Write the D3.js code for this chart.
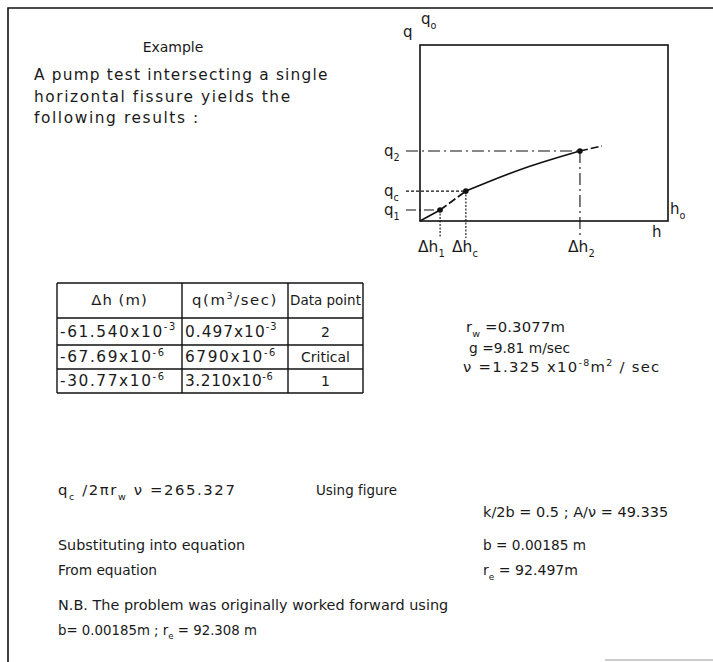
<!DOCTYPE html>
<html>
<head>
<meta charset="utf-8">
<script src="https://cdn.jsdelivr.net/npm/d3@7"></script>
<style>
  html, body { margin: 0; padding: 0; background: #fff; }
  svg text { font-family: "DejaVu Sans", "Liberation Sans", sans-serif; fill: #1a1a1a; }
</style>
</head>
<body>
<div id="chart"></div>
<script>
// ---------------- data ----------------
// sketch curve q(h) in normalised units (0..1 of the graph box)
const curveH = [0, 0.081, 0.185, 0.42, 0.645, 0.734];
const curveQ = [0, 0.0625, 0.17, 0.30, 0.398, 0.426];
// marked data points
const pointSub = ["1", "c", "2"];
const pointH = [0.081, 0.185, 0.645];
const pointQ = [0.0625, 0.17, 0.398];

// table
const tableHeader = ["Δh (m)", "q(m³/sec)", "Data point"];
const dhMant = ["-61.540", "-67.69", "-30.77"];
const dhExp = ["-3", "-6", "-6"];
const qMant = ["0.497", "6790", "3.210"];
const qExp = ["-3", "-6", "-6"];
const dataPoint = ["2", "Critical", "1"];

// text lines
const introLines = ["A pump test intersecting a single", "horizontal fissure yields the", "following results :"];

// ---------------- drawing ----------------
const W = 713, H = 662;
const svg = d3.select("#chart").append("svg").attr("width", W).attr("height", H);

// outer frame (top and left only, like the scan)
svg.append("path").attr("d", `M8,662 L8,8 L713,8`).attr("fill", "none")
  .attr("stroke", "#111").attr("stroke-width", 1.6);
svg.append("line").attr("x1", 605).attr("x2", 713).attr("y1", 660).attr("y2", 660)
  .attr("stroke", "#999").attr("stroke-width", 1.2);

// rich text helper: parts = [[string, "n"|"sub"|"sup"], ...]; optional width to fit
function rich(x, y, parts, size, anchor, width) {
  size = size || 14;
  const build = (sz) => {
    const t = svg.append("text").attr("x", x).attr("y", y)
      .attr("font-size", sz + "px").attr("text-anchor", anchor || "start");
    let shift = 0;
    parts.forEach(([s, k]) => {
      const target = k === "sub" ? sz * 0.32 : k === "sup" ? -sz * 0.42 : 0;
      const ts = t.append("tspan").attr("dy", target - shift).text(s);
      if (k !== "n") ts.attr("font-size", (sz * 0.64) + "px");
      shift = target;
    });
    return t;
  };
  let t = build(size);
  if (width) {
    const w = t.node().getBBox().width;
    const s2 = size * Math.min(1.06, Math.max(0.95, width / w));
    t.remove();
    t = build(s2);
    const w2 = t.node().getBBox().width;
    const n = t.text().length;
    const ls = Math.min(1.6, Math.max(-0.4, (width - w2) / (n - 0.5)));
    t.attr("letter-spacing", ls.toFixed(2) + "px");
  }
  return t;
}

// Title and intro text
rich(173, 52, [["Example", "n"]], 14, "middle");
const introW = [294, 257, 169];
introLines.forEach((l, i) => rich(34, 80 + i * 21.5, [[l, "n"]], 14.5, "start", introW[i]));

// ---------------- graph sketch ----------------
const x = d3.scaleLinear().domain([0, 1]).range([420, 668]);
const y = d3.scaleLinear().domain([0, 1]).range([221, 45]);

svg.append("rect").attr("x", x(0)).attr("y", y(1))
  .attr("width", x(1) - x(0)).attr("height", y(0) - y(1))
  .attr("fill", "none").attr("stroke", "#111").attr("stroke-width", 1.6);

const pts = curveH.map((h, i) => [h, curveQ[i]]);
const line = d3.line().x(d => x(d[0])).y(d => y(d[1])).curve(d3.curveMonotoneX);
// origin -> q1 solid
svg.append("path").attr("d", line(pts.slice(0, 2))).attr("fill", "none")
  .attr("stroke", "#111").attr("stroke-width", 1.6);
// q1 -> qc dashed
svg.append("path").attr("d", line(pts.slice(1, 3))).attr("fill", "none")
  .attr("stroke", "#111").attr("stroke-width", 1.6).attr("stroke-dasharray", "8,3");
// qc -> q2 solid curve
svg.append("path").attr("d", line(pts.slice(2, 5))).attr("fill", "none")
  .attr("stroke", "#111").attr("stroke-width", 1.6);
// beyond q2 dashed
svg.append("path").attr("d", line(pts.slice(4, 6))).attr("fill", "none")
  .attr("stroke", "#111").attr("stroke-width", 1.6).attr("stroke-dasharray", "8,3");

// guide lines
const guideStyle = [
  { h: "10,3,2,3", v: "2,1.5" },
  { h: "3,2", v: "2,1.5" },
  { h: "12,4,2,4", v: "12,4,2,4" }
];
pointH.forEach((h, i) => {
  svg.append("line").attr("x1", 406).attr("x2", x(h)).attr("y1", y(pointQ[i])).attr("y2", y(pointQ[i]))
    .attr("stroke", "#111").attr("stroke-width", 1.1).attr("stroke-dasharray", guideStyle[i].h);
  svg.append("line").attr("x1", x(h)).attr("x2", x(h)).attr("y1", y(pointQ[i])).attr("y2", 238)
    .attr("stroke", "#111").attr("stroke-width", 1.1).attr("stroke-dasharray", guideStyle[i].v);
  svg.append("circle").attr("cx", x(h)).attr("cy", y(pointQ[i])).attr("r", 2.8).attr("fill", "#111");
  rich(384, y(pointQ[i]) + 5, [["q", "n"], [pointSub[i], "sub"]], 15);
});

// axis labels
rich(421, 24, [["q", "n"], ["o", "sub"]], 15);
rich(403, 37, [["q", "n"]], 15);
rich(670, 214, [["h", "n"], ["o", "sub"]], 15);
rich(652, 237, [["h", "n"]], 15);
const dhLabelX = [418, 452, 568];
pointSub.forEach((s, i) => rich(dhLabelX[i], 252, [["Δh", "n"], [s, "sub"]], 15.5));

// ---------------- table ----------------
const colX = [57, 182, 288, 363];
const rowY = [283, 318, 345, 369, 393];
const tb = svg.append("g").attr("stroke", "#111").attr("stroke-width", 1.4).attr("fill", "none");
rowY.forEach(ry => tb.append("line").attr("x1", colX[0]).attr("x2", colX[3]).attr("y1", ry).attr("y2", ry));
colX.forEach(cx => tb.append("line").attr("x1", cx).attr("x2", cx).attr("y1", rowY[0]).attr("y2", rowY[4]));

rich((colX[0] + colX[1]) / 2, 305, [["Δh (m)", "n"]], 14, "middle", 56);
rich((colX[1] + colX[2]) / 2, 305, [["q(m", "n"], ["3", "sup"], ["/sec)", "n"]], 14, "middle", 92);
rich((colX[2] + colX[3]) / 2, 305, [[tableHeader[2], "n"]], 13.5, "middle");
const dhW = [116, 116, 108];
const qW = [92, 94, 88];
dhMant.forEach((m, i) => {
  const by = (rowY[i + 1] + rowY[i + 2]) / 2 + 5;
  rich(colX[0] + 3, by, [[m + "x10", "n"], [dhExp[i], "sup"]], 14.5, "start", dhW[i]);
  rich(colX[1] + 3, by, [[qMant[i] + "x10", "n"], [qExp[i], "sup"]], 14.5, "start", qW[i]);
  rich((colX[2] + colX[3]) / 2, by, [[dataPoint[i], "n"]], 14, "middle");
});

// ---------------- parameters ----------------
rich(466, 332, [["r", "n"], ["w", "sub"], [" =0.3077m", "n"]], 14, "start", 99);
rich(469, 353, [["g =9.81 m/sec", "n"]], 14, "start", 101);
rich(463, 372, [["ν =1.325 x10", "n"], ["-8", "sup"], ["m", "n"], ["2", "sup"], [" / sec", "n"]], 14, "start", 197);

// ---------------- calculations ----------------
rich(58, 495, [["q", "n"], ["c", "sub"], [" /2πr", "n"], ["w", "sub"], [" ν =265.327", "n"]], 14, "start", 190);
rich(316, 495, [["Using  figure", "n"]], 14, "start", 81);
rich(483, 517, [["k/2b = 0.5 ; A/ν = 49.335", "n"]], 14, "start", 185);
rich(58, 550, [["Substituting into equation", "n"]], 14, "start", 187);
rich(483, 550, [["b = 0.00185 m", "n"]], 14, "start", 103);
rich(58, 575, [["From  equation", "n"]], 14, "start", 99);
rich(483, 575, [["r", "n"], ["e", "sub"], [" = 92.497m", "n"]], 14, "start", 95);
rich(58, 610, [["N.B. The problem was originally worked forward using", "n"]], 14, "start", 390);
rich(58, 635, [["b= 0.00185m ; r", "n"], ["e", "sub"], [" = 92.308 m", "n"]], 14, "start", 199);
</script>
</body>
</html>
